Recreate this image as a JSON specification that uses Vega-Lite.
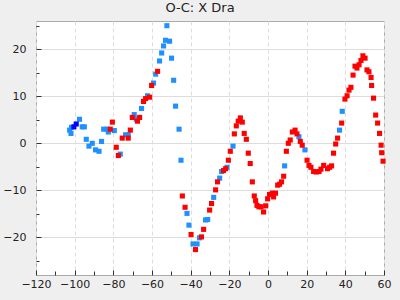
{
  "$schema": "https://vega.github.io/schema/vega-lite/v6.json",
  "autosize": "none",
  "padding": {"left": 36, "top": 21, "right": 16, "bottom": 25},
  "width": 348,
  "height": 254,
  "background": "#efefef",
  "title": {"text": "O-C: X Dra", "font": "DejaVu Sans", "fontSize": 13, "fontWeight": "normal", "color": "#222222", "offset": 5, "dx": -10},
  "config": {
    "view": {"fill": "white", "stroke": "#aaaaaa", "strokeWidth": 1},
    "axis": {"labelFont": "DejaVu Sans", "labelFontSize": 11, "labelColor": "#222222", "domain": false, "tickColor": "#333333", "title": null}
  },
  "data": {"values": [
    {"x": -52.3, "y": 25.0, "s": "A"}, {"x": -53.0, "y": 21.9, "s": "A"}, {"x": -50.9, "y": 21.7, "s": "A"},
    {"x": -54.0, "y": 20.7, "s": "A"}, {"x": -55.0, "y": 19.2, "s": "A"}, {"x": -49.9, "y": 18.1, "s": "A"},
    {"x": -56.1, "y": 17.5, "s": "A"}, {"x": -48.8, "y": 13.4, "s": "A"}, {"x": -58.1, "y": 14.7, "s": "A"},
    {"x": -59.2, "y": 12.8, "s": "A"}, {"x": -62.3, "y": 10.1, "s": "A"}, {"x": -47.8, "y": 7.9, "s": "A"},
    {"x": -65.4, "y": 7.4, "s": "A"}, {"x": -69.2, "y": 6.1, "s": "A"}, {"x": -68.1, "y": 5.1, "s": "A"},
    {"x": -46.0, "y": 3.0, "s": "A"}, {"x": -73.7, "y": 1.8, "s": "A"}, {"x": -72.3, "y": 1.8, "s": "A"},
    {"x": -97.5, "y": 5.1, "s": "A"}, {"x": -101.6, "y": 3.4, "s": "A"}, {"x": -102.6, "y": 2.8, "s": "A"},
    {"x": -101.9, "y": 2.1, "s": "A"}, {"x": -96.1, "y": 3.5, "s": "A"}, {"x": -95.0, "y": 3.5, "s": "A"},
    {"x": -85.0, "y": 3.0, "s": "A"}, {"x": -83.3, "y": 3.0, "s": "A"}, {"x": -82.6, "y": 2.4, "s": "A"},
    {"x": -79.5, "y": 2.7, "s": "A"}, {"x": -94.0, "y": 0.85, "s": "A"}, {"x": -92.6, "y": -0.6, "s": "A"},
    {"x": -90.9, "y": 0.0, "s": "A"}, {"x": -89.2, "y": -1.4, "s": "A"}, {"x": -87.4, "y": -1.7, "s": "A"},
    {"x": -86.1, "y": 0.4, "s": "A"}, {"x": -76.4, "y": -2.3, "s": "A"}, {"x": -45.0, "y": -3.6, "s": "A"},
    {"x": -41.9, "y": -14.9, "s": "A"}, {"x": -40.9, "y": -17.4, "s": "A"}, {"x": -38.8, "y": -21.4, "s": "A"},
    {"x": -36.7, "y": -21.4, "s": "A"}, {"x": -35.4, "y": -20.1, "s": "A"}, {"x": -32.3, "y": -16.3, "s": "A"},
    {"x": -31.2, "y": -16.2, "s": "A"}, {"x": -28.1, "y": -11.5, "s": "A"}, {"x": -25.0, "y": -7.4, "s": "A"},
    {"x": -24.0, "y": -6.0, "s": "A"}, {"x": -21.2, "y": -5.1, "s": "A"}, {"x": -18.1, "y": -0.6, "s": "A"},
    {"x": 8.6, "y": -4.8, "s": "A"}, {"x": 16.0, "y": 1.4, "s": "A"}, {"x": 19.1, "y": -1.4, "s": "A"},
    {"x": 37.0, "y": 2.8, "s": "A"}, {"x": 38.4, "y": 6.8, "s": "A"},
    {"x": -57.1, "y": 15.3, "s": "B"}, {"x": -60.2, "y": 12.3, "s": "B"}, {"x": -61.2, "y": 9.8, "s": "B"},
    {"x": -63.3, "y": 9.5, "s": "B"}, {"x": -64.4, "y": 8.9, "s": "B"}, {"x": -70.2, "y": 5.5, "s": "B"},
    {"x": -66.4, "y": 5.5, "s": "B"}, {"x": -67.5, "y": 4.7, "s": "B"}, {"x": -80.5, "y": 4.5, "s": "B"},
    {"x": -81.6, "y": 3.0, "s": "B"}, {"x": -71.2, "y": 2.8, "s": "B"}, {"x": -75.4, "y": 1.1, "s": "B"},
    {"x": -72.3, "y": 1.1, "s": "B"}, {"x": -78.5, "y": -0.85, "s": "B"}, {"x": -77.4, "y": -2.6, "s": "B"},
    {"x": -44.3, "y": -11.2, "s": "B"}, {"x": -42.9, "y": -13.6, "s": "B"}, {"x": -39.8, "y": -19.4, "s": "B"},
    {"x": -37.5, "y": -22.6, "s": "B"}, {"x": -34.4, "y": -19.9, "s": "B"}, {"x": -33.3, "y": -18.3, "s": "B"},
    {"x": -30.2, "y": -14.2, "s": "B"}, {"x": -29.2, "y": -12.8, "s": "B"}, {"x": -27.1, "y": -9.9, "s": "B"},
    {"x": -26.1, "y": -8.2, "s": "B"}, {"x": -23.0, "y": -5.8, "s": "B"}, {"x": -21.9, "y": -5.4, "s": "B"},
    {"x": -20.5, "y": -3.6, "s": "B"}, {"x": -19.5, "y": -1.7, "s": "B"}, {"x": -17.4, "y": 2.0, "s": "B"},
    {"x": -16.4, "y": 3.7, "s": "B"}, {"x": -15.4, "y": 4.7, "s": "B"}, {"x": -14.3, "y": 5.4, "s": "B"},
    {"x": -13.3, "y": 4.5, "s": "B"}, {"x": -12.3, "y": 2.1, "s": "B"}, {"x": -11.2, "y": 0.85, "s": "B"},
    {"x": -10.2, "y": -2.1, "s": "B"}, {"x": -9.2, "y": -4.3, "s": "B"}, {"x": -8.1, "y": -8.2, "s": "B"},
    {"x": -7.1, "y": -11.2, "s": "B"}, {"x": -6.4, "y": -12.2, "s": "B"}, {"x": -5.7, "y": -13.2, "s": "B"},
    {"x": -4.7, "y": -13.5, "s": "B"}, {"x": -3.6, "y": -13.5, "s": "B"}, {"x": -2.3, "y": -14.6, "s": "B"},
    {"x": -1.2, "y": -13.3, "s": "B"}, {"x": -0.2, "y": -11.8, "s": "B"}, {"x": 0.8, "y": -10.9, "s": "B"},
    {"x": 2.2, "y": -10.6, "s": "B"}, {"x": 2.9, "y": -11.4, "s": "B"}, {"x": 3.9, "y": -10.6, "s": "B"},
    {"x": 5.0, "y": -8.9, "s": "B"}, {"x": 6.0, "y": -8.7, "s": "B"}, {"x": 7.0, "y": -8.2, "s": "B"},
    {"x": 8.1, "y": -7.0, "s": "B"}, {"x": 9.5, "y": -1.7, "s": "B"}, {"x": 10.5, "y": 0.0, "s": "B"},
    {"x": 11.5, "y": 0.7, "s": "B"}, {"x": 12.6, "y": 2.4, "s": "B"}, {"x": 14.0, "y": 2.8, "s": "B"},
    {"x": 15.0, "y": 2.0, "s": "B"}, {"x": 16.7, "y": 0.4, "s": "B"}, {"x": 17.7, "y": -0.4, "s": "B"},
    {"x": 20.2, "y": -3.6, "s": "B"}, {"x": 21.2, "y": -4.7, "s": "B"}, {"x": 22.2, "y": -5.1, "s": "B"},
    {"x": 23.6, "y": -6.0, "s": "B"}, {"x": 25.0, "y": -6.1, "s": "B"}, {"x": 26.4, "y": -6.0, "s": "B"},
    {"x": 27.4, "y": -5.5, "s": "B"}, {"x": 28.8, "y": -4.7, "s": "B"}, {"x": 30.8, "y": -5.4, "s": "B"},
    {"x": 31.9, "y": -5.1, "s": "B"}, {"x": 32.9, "y": -4.8, "s": "B"}, {"x": 33.9, "y": -2.1, "s": "B"},
    {"x": 35.0, "y": -0.15, "s": "B"}, {"x": 36.0, "y": 1.1, "s": "B"}, {"x": 38.1, "y": 4.3, "s": "B"},
    {"x": 39.8, "y": 9.4, "s": "B"}, {"x": 40.9, "y": 10.1, "s": "B"}, {"x": 41.9, "y": 11.3, "s": "B"},
    {"x": 42.9, "y": 11.9, "s": "B"}, {"x": 44.0, "y": 14.5, "s": "B"}, {"x": 45.0, "y": 16.4, "s": "B"},
    {"x": 46.0, "y": 16.0, "s": "B"}, {"x": 47.1, "y": 16.7, "s": "B"}, {"x": 48.1, "y": 17.6, "s": "B"},
    {"x": 49.1, "y": 18.6, "s": "B"}, {"x": 50.2, "y": 18.1, "s": "B"}, {"x": 51.2, "y": 15.6, "s": "B"},
    {"x": 52.2, "y": 15.2, "s": "B"}, {"x": 53.3, "y": 14.0, "s": "B"}, {"x": 53.6, "y": 12.3, "s": "B"},
    {"x": 54.6, "y": 9.6, "s": "B"}, {"x": 55.7, "y": 6.0, "s": "B"}, {"x": 56.7, "y": 4.3, "s": "B"},
    {"x": 57.7, "y": 2.1, "s": "B"}, {"x": 58.5, "y": -0.4, "s": "B"}, {"x": 58.8, "y": -2.0, "s": "B"},
    {"x": 59.5, "y": -3.8, "s": "B"},
    {"x": -99.2, "y": 4.1, "s": "C"}, {"x": -100.4, "y": 3.5, "s": "C"}
  ]},
  "mark": {"type": "point", "shape": "square", "filled": true, "size": 26, "opacity": 1, "strokeWidth": 0},
  "encoding": {
    "x": {"field": "x", "type": "quantitative",
      "scale": {"domain": [-120, 60], "nice": false, "zero": false},
      "axis": {
        "values": [-120, -110, -100, -90, -80, -70, -60, -50, -40, -30, -20, -10, 0, 10, 20, 30, 40, 50, 60],
        "labelExpr": "datum.value % 20 == 0 ? datum.label : ''",
        "labelFlush": false, "labelOverlap": false,
        "tickSize": {"condition": {"test": "datum.value % 20 == 0", "value": -5}, "value": -4},
        "labelPadding": 8,
        "gridColor": "#dddddd", "gridDash": [4, 3],
        "gridOpacity": {"condition": {"test": "datum.value % 20 == 0", "value": 1}, "value": 0}
      }},
    "y": {"field": "y", "type": "quantitative",
      "scale": {"domain": [-28, 26], "nice": false, "zero": false},
      "axis": {
        "values": [-25, -20, -15, -10, -5, 0, 5, 10, 15, 20, 25],
        "labelExpr": "datum.value % 10 == 0 ? datum.label : ''",
        "labelFlush": false, "labelOverlap": false,
        "tickSize": {"condition": {"test": "datum.value % 10 == 0", "value": -5}, "value": -3},
        "labelPadding": 15,
        "gridColor": "#dddddd",
        "gridOpacity": {"condition": {"test": "datum.value % 10 == 0", "value": 1}, "value": 0}
      }},
    "color": {"field": "s", "type": "nominal", "legend": null,
      "scale": {"domain": ["A", "B", "C"], "range": ["#1e90ff", "#ff0000", "#0000ff"]}}
  }
}
